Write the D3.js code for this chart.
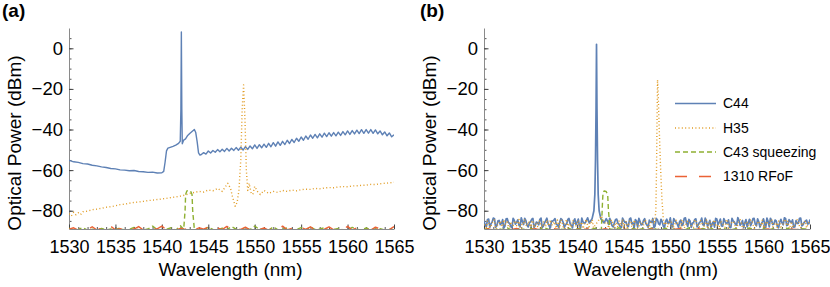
<!DOCTYPE html>
<html>
<head>
<meta charset="utf-8">
<script src="https://cdn.jsdelivr.net/npm/d3@7"></script>
<style>
  body { margin: 0; background: #fff; }
  text { font-family: "Liberation Sans", Arial, sans-serif; }
</style>
</head>
<body>
<svg id="chart"></svg>
<script>
const width = 830,
  height = 287;

// axis ticks and labels
const wavelengthTicks = [1530, 1535, 1540, 1545, 1550, 1555, 1560, 1565];
const powerTicks = [-80, -60, -40, -20, 0];
const seriesNames = ["C44", "H35", "C43 squeezing", "1310 RFoF"];
const seriesColors = ["#5E81B5", "#E19C24", "#8FB032", "#EB6235"];
const seriesDash = [null, "1,2.4", "5,3", "12,12"];

// ---- panel (a) ----
// C44, start of the trace [nm, dBm]
const c44aHead = [
  [1530, -55.2], [1530.5, -55.9], [1531, -56.2], [1531.5, -56.8], [1532, -57.0],
  [1532.5, -57.6], [1533, -57.9], [1533.5, -58.4], [1534, -58.7], [1534.5, -59.2],
  [1535, -59.4], [1535.5, -59.9], [1536, -60.0], [1536.5, -60.3], [1537, -60.2],
  [1537.5, -60.7], [1538, -60.8], [1538.5, -61.1], [1539, -61.0], [1539.5, -61.4],
  [1540, -61.3], [1540.2, -60.6], [1540.35, -56], [1540.5, -50.5], [1540.65, -49.2],
  [1540.9, -48.8], [1541.2, -48.3], [1541.5, -47.7], [1541.8, -46.8], [1541.98, -45.8],
  [1542.05, -30], [1542.1, 8], [1542.15, -30], [1542.2, -47], [1542.35, -45.2],
  [1542.55, -44.6], [1542.75, -43.1], [1543.0, -42.0], [1543.25, -41.0], [1543.5, -40.0],
  [1543.65, -41.5], [1543.8, -46], [1543.95, -51.5], [1544.1, -52.6]
];
// C44, rest of the trace, sweep points every 0.25 nm from 1544.25 nm
const c44aTailStart = 1544.25;
const c44aTail = [
  -52.3, -51.4, -52.1, -50.6, -51.6, -50.3, -51.2, -49.9, -51.0, -49.7,
  -50.8, -49.3, -50.6, -49.2, -50.3, -48.9, -50.2, -48.7, -50.1, -48.4,
  -49.8, -48.1, -49.5, -47.6, -49.3, -47.5, -49.0, -47.2, -48.8, -46.8,
  -48.5, -46.5, -48.2, -46.1, -47.8, -45.8, -47.4, -45.3, -46.9, -44.9,
  -46.4, -44.3, -45.8, -43.7, -45.3, -43.2, -44.8, -42.7, -44.3, -42.4,
  -44.1, -42.1, -43.8, -41.8, -43.5, -41.6, -43.3, -41.5, -43.1, -41.3,
  -42.9, -41.0, -42.6, -40.7, -42.4, -40.5, -42.2, -40.3, -42.0, -40.1,
  -41.9, -40.0, -41.8, -40.0, -41.9, -40.2, -42.1, -40.7, -42.6, -41.2,
  -43.1, -41.7, -43.6, -42.6
];
// H35 [nm, dBm]
const h35a = [
  [1530, -81.5], [1530.25, -82.6], [1530.5, -80.8], [1530.75, -82.0], [1531, -81.0],
  [1531.25, -81.9], [1531.5, -80.5], [1532, -80.2], [1532.5, -79.5], [1533, -79.2],
  [1533.5, -78.8], [1534, -78.3], [1534.5, -78.0], [1535, -77.6], [1535.5, -77.0],
  [1536, -76.8], [1536.5, -76.3], [1537, -75.9], [1537.5, -75.7], [1538, -75.4],
  [1538.5, -75.0], [1539, -74.8], [1539.5, -74.5], [1540, -74.2], [1540.5, -73.9],
  [1541, -73.5], [1541.5, -73.2], [1542, -72.8], [1542.5, -72.3], [1543, -71.5],
  [1543.5, -71.0], [1544, -70.5], [1544.5, -70.8], [1545, -69.8], [1545.5, -70.2],
  [1546, -69.0], [1546.5, -70.5], [1546.8, -68.5], [1547.1, -66.5], [1547.4, -69],
  [1547.6, -73], [1547.9, -77.8], [1548.1, -76], [1548.3, -70], [1548.5, -55],
  [1548.65, -30], [1548.8, -18], [1548.95, -35], [1549.1, -60], [1549.25, -70],
  [1549.4, -66.5], [1549.6, -71], [1549.8, -72], [1550.0, -68], [1550.3, -70.5],
  [1550.6, -72], [1551, -70], [1551.5, -71.5], [1552, -70.5], [1552.5, -71],
  [1553, -70], [1553.5, -70.5], [1554, -69.8], [1554.5, -70.2], [1555, -69.6],
  [1555.5, -69.4], [1556, -69.5], [1556.5, -69.0], [1557, -69.2], [1557.5, -68.8],
  [1558, -68.6], [1558.5, -68.7], [1559, -68.3], [1559.5, -68.1], [1560, -68.2],
  [1560.5, -67.8], [1561, -67.7], [1561.5, -67.5], [1562, -67.4], [1562.5, -67.0],
  [1563, -67.1], [1563.5, -66.7], [1564, -66.5], [1564.5, -66.3], [1565, -66.0]
];
// floor traces, sweep points every 0.5 nm from 1530 nm
const floorStart = 1530;
const c43aFloor = [
  -88.6, -89.5, -89.2, -88.3, -89.6, -89.1, -89.4, -88.7, -89.5, -89.0,
  -89.3, -88.5, -89.6, -89.2, -88.2, -89.4, -89.5, -89.0, -87.6, -89.3,
  -89.5, -89.1, -88.4, -89.6, -87.4, -89.2, -89.5, -88.8, -89.3, -89.6,
  -88.1, -89.2, -89.5, -88.6, -89.4, -87.8, -89.1, -89.6, -88.3, -89.3,
  -87.5, -89.2, -88.9, -89.6, -88.0, -89.4, -89.1, -88.5, -89.6, -89.2,
  -88.3, -89.5, -87.9, -89.3, -89.0, -88.4, -89.6, -89.2, -88.7, -89.4,
  -89.5, -88.2, -89.1, -89.6, -88.5, -89.3, -89.0, -88.8, -89.5, -89.2,
  -88.6
];
const c43aPeak = [
  [1542.35, -89.2], [1542.5, -80], [1542.56, -72], [1542.7, -70.2], [1542.9, -70],
  [1543.1, -70.4], [1543.25, -72], [1543.32, -80], [1543.5, -89.2]
];
const rfofaFloor = [
  -89.1, -88.4, -89.6, -88.0, -89.3, -87.9, -89.5, -88.6, -89.2, -87.7,
  -89.4, -88.8, -89.6, -88.2, -89.1, -87.8, -89.5, -88.5, -89.3, -88.9,
  -87.6, -89.4, -88.3, -89.6, -88.7, -89.2, -87.9, -89.5, -88.4, -89.1,
  -88.0, -89.6, -88.6, -89.3, -87.7, -89.4, -88.9, -89.2, -88.1, -89.5,
  -87.8, -89.3, -88.5, -89.6, -88.2, -89.0, -87.6, -89.4, -88.7, -89.5,
  -88.3, -89.2, -87.9, -89.6, -88.6, -89.1, -88.0, -89.4, -88.8, -89.3,
  -87.7, -89.5, -88.4, -89.2, -88.9, -89.6, -88.1, -89.0, -88.5, -89.3,
  -87.8
];

// ---- panel (b) ----
// noise floors, sweep points every 0.25 nm from 1530 nm ...
const fineStart = 1530;
const c44bFloor = [
  -85.2, -87.9, -84.1, -86.5, -83.6, -88.2, -85.0, -86.9, -84.4, -87.6,
  -83.9, -86.2, -88.4, -84.8, -85.7, -87.1, -83.5, -86.8, -84.9, -88.0,
  -85.4, -83.8, -87.3, -85.9, -84.2, -88.3, -86.0, -83.7, -87.5, -85.1,
  -84.6, -86.6, -88.1, -83.9, -85.8, -87.0, -84.3, -86.4, -88.5, -84.0,
  -85.6, -87.7, -83.6, -86.1, -84.7, -88.2, -85.3, -86.9, -83.8, -87.2,
  -84.5, -86.3, -88.0, -85.0, -83.7, -87.4, -85.9, -84.1, -86.7, -88.3,
  -84.8, -85.5, -87.8, -83.6, -86.0, -84.4, -88.1, -85.2, -86.8, -83.9,
  -87.1, -84.6, -85.7, -88.4, -83.8, -86.5, -84.2, -87.6, -85.1, -86.2,
  -83.5, -88.0, -84.9, -86.6, -85.4, -87.3, -83.7, -86.1, -84.3, -88.2,
  -85.8, -84.0, -87.0, -85.3, -86.9, -83.6, -87.7, -84.7, -86.4, -88.1,
  -84.1, -85.6, -87.5, -83.9, -86.3, -84.5, -88.3, -85.0, -86.7, -83.4,
  -87.2, -84.8, -85.9, -88.0, -84.2, -86.0, -83.8, -87.4, -85.5, -86.6,
  -84.0, -88.2, -85.2, -83.7, -86.8, -84.6, -87.9, -85.7, -86.1, -83.5,
  -87.3, -84.4, -85.8, -88.1, -84.9, -86.2, -83.6, -87.0, -85.1, -86.5,
  -84.3
];
// ... and the points in between (from 1530.125 nm)
const c44bFloorMid = [
  -86.9, -84.3, -88.1, -85.5, -83.9, -87.4, -84.8, -86.3, -88.6, -84.0,
  -85.9, -87.8, -83.7, -86.6, -84.5, -88.0, -85.3, -83.8, -87.2, -86.0,
  -84.2, -88.3, -85.6, -86.9, -83.6, -87.5, -84.9, -86.2, -88.4, -85.1,
  -83.9, -87.0, -85.7, -84.4, -88.2, -86.5, -83.8, -87.3, -85.0, -86.8,
  -84.1, -88.5, -85.4, -86.0, -83.5, -87.6, -84.7, -86.4, -88.1, -85.2,
  -84.6, -87.1, -83.9, -86.7, -85.5, -88.0, -84.3, -86.1, -87.9, -83.6,
  -85.8, -87.4, -84.0, -86.5, -88.3, -85.0, -83.7, -87.0, -84.8, -86.3,
  -88.2, -85.6, -83.8, -87.5, -84.5, -86.9, -85.3, -88.4, -84.2, -86.0,
  -87.3, -83.9, -85.7, -88.1, -84.6, -86.6, -83.5, -87.8, -85.1, -86.2,
  -84.3, -88.0, -85.9, -83.6, -87.2, -84.9, -86.4, -88.5, -85.4, -83.8,
  -86.8, -84.1, -87.6, -85.2, -86.0, -88.2, -83.7, -85.5, -87.1, -84.7,
  -86.3, -88.3, -84.4, -85.8, -87.4, -83.9, -86.7, -84.0, -88.1, -85.6,
  -86.1, -83.6, -87.9, -84.8, -86.5, -85.0, -88.4, -84.2, -86.9, -83.8,
  -87.0, -85.3, -84.5, -88.0, -86.2, -83.7, -87.5, -85.7, -84.6, -86.4
];
const c44bPeak = [
  [1541.3, -86], [1541.6, -84], [1541.8, -80], [1541.9, -72], [1541.97, -55],
  [1542.03, -30], [1542.08, 2], [1542.13, -30], [1542.19, -55], [1542.26, -72],
  [1542.36, -80], [1542.55, -84], [1542.9, -86]
];
const h35bFloor = [
  -86.8, -88.4, -85.2, -87.6, -84.5, -88.9, -86.1, -85.0, -87.9, -86.4,
  -84.8, -88.2, -86.9, -85.6, -87.3, -84.3, -88.6, -86.0, -87.1, -85.3,
  -88.8, -84.9, -86.6, -87.8, -85.1, -88.3, -86.3, -84.6, -87.5, -86.8,
  -85.4, -88.7, -86.2, -84.4, -87.9, -85.8, -88.5, -86.7, -84.7, -87.2,
  -86.0, -88.1, -85.5, -87.4, -84.2, -88.9, -86.5, -85.2, -87.7, -86.1,
  -84.9, -88.4, -86.8, -85.7, -87.0, -84.5, -88.6, -86.4, -85.0, -87.6,
  -88.2, -85.3, -86.9, -84.8, -87.8, -86.2, -88.7, -85.6, -87.1, -84.3,
  -86.6, -88.0, -85.1, -87.5, -86.3, -84.7, -88.8, -86.0, -85.4, -87.9,
  -84.6, -88.3, -86.7, -85.9, -87.2, -84.4, -88.5, -86.2, -85.5, -87.6,
  -88.1, -85.0, -86.8, -84.9, -87.4, -86.4, -88.9, -85.3, -87.0, -84.5,
  -86.5, -88.2, -85.7, -87.7, -84.8, -88.6, -86.1, -85.2, -87.9, -86.9,
  -84.4, -88.4, -86.3, -85.8, -87.3, -84.7, -88.7, -86.6, -85.1, -87.5,
  -88.0, -85.4, -86.9, -84.6, -87.8, -86.0, -88.3, -85.6, -87.1, -84.2,
  -86.7, -88.8, -85.3, -87.6, -86.2, -84.9, -88.5, -86.4, -85.0, -87.2,
  -85.5
];
const h35bFloorMid = [
  -87.7, -85.1, -88.3, -86.2, -84.7, -88.6, -85.9, -87.0, -84.4, -86.8,
  -88.1, -85.4, -87.3, -84.9, -86.5, -88.7, -85.7, -84.3, -87.6, -86.0,
  -85.2, -88.4, -86.6, -84.8, -87.9, -85.5, -88.0, -86.3, -84.5, -87.2,
  -86.9, -84.6, -88.5, -85.8, -87.1, -84.2, -86.4, -88.2, -85.0, -87.5,
  -84.7, -86.7, -88.8, -85.3, -87.4, -86.1, -84.4, -88.3, -85.6, -86.9,
  -87.8, -85.0, -86.2, -88.6, -84.9, -87.0, -85.7, -88.1, -86.5, -84.3,
  -86.3, -88.4, -85.2, -87.7, -84.6, -86.8, -88.0, -85.5, -87.3, -84.8,
  -88.2, -86.0, -84.5, -87.5, -85.9, -88.7, -86.4, -84.2, -87.1, -85.3,
  -85.8, -87.9, -84.7, -86.6, -88.5, -85.1, -87.2, -84.9, -86.1, -88.3,
  -84.4, -86.9, -88.0, -85.6, -87.6, -84.6, -86.3, -88.6, -85.4, -87.0,
  -87.4, -85.0, -86.7, -88.2, -84.3, -87.8, -85.7, -86.2, -88.8, -84.8,
  -86.0, -88.1, -85.3, -87.3, -84.5, -86.5, -88.4, -85.9, -87.1, -84.7,
  -88.6, -85.5, -86.8, -84.2, -87.7, -86.1, -85.1, -88.0, -86.4, -84.9,
  -85.2, -87.5, -88.3, -86.6, -84.4, -87.9, -85.8, -86.3, -88.5, -85.6
];
const h35bFeatures = [
  [1541.75, -88.5], [1541.95, -87], [1542.2, -85.5], [1542.4, -84], [1542.6, -82.5],
  [1542.8, -84.5], [1542.95, -86],
  [1548.3, -86.5], [1548.45, -80], [1548.52, -60], [1548.58, -35], [1548.63, -15.5],
  [1548.7, -22], [1548.8, -38], [1548.95, -58], [1549.1, -74], [1549.25, -84], [1549.35, -87]
];
const c43bFloor = [
  -89.2, -88.7, -89.5, -88.9, -89.3, -88.5, -89.6, -89.0, -88.8, -89.4,
  -88.6, -89.5, -89.1, -88.4, -89.3, -89.6, -88.9, -89.2, -88.5, -89.4,
  -89.0, -88.7, -89.6, -89.1, -88.6, -89.3, -89.5, -88.8, -89.2, -88.4,
  -89.6, -89.0, -88.7, -89.4, -88.9, -89.5, -88.5, -89.1, -89.3, -88.6,
  -89.5, -88.8, -89.2, -89.6, -88.4, -89.0, -89.4, -88.7, -89.3, -88.9,
  -89.5, -88.6, -89.1, -89.4, -88.8, -89.6, -89.0, -88.5, -89.3, -89.2,
  -88.7, -89.4, -88.9, -89.6, -89.1, -88.6, -89.3, -89.5, -88.8, -89.0,
  -89.4
];
const c43bPeak = [
  [1542.6, -89.3], [1542.72, -76], [1542.78, -71], [1542.9, -70.3], [1543.1, -70.5],
  [1543.28, -72], [1543.35, -79], [1543.42, -83], [1543.5, -89]
];
const rfofbFloor = [
  -89.4, -88.9, -89.6, -89.1, -88.8, -89.5, -89.2, -88.7, -89.6, -89.0,
  -89.3, -88.8, -89.5, -89.1, -89.6, -88.9, -89.2, -89.4, -88.7, -89.5,
  -89.0, -89.6, -88.9, -89.3, -89.1, -89.5, -88.8, -89.4, -89.6, -89.0,
  -88.9, -89.5, -89.2, -89.6, -88.7, -89.3, -89.0, -89.5, -88.9, -89.4,
  -89.6, -89.1, -88.8, -89.4, -89.2, -89.6, -88.9, -89.3, -89.5, -89.0,
  -88.8, -89.4, -89.6, -89.1, -89.3, -88.9, -89.5, -89.2, -89.6, -88.8,
  -89.3, -89.0, -89.5, -89.4, -88.9, -89.6, -89.1, -89.2, -89.5, -89.0,
  -89.3
];

// helpers to turn a sweep into [nm, dBm] pairs
function sweep(start, step, values) {
  return values.map((v, i) => [start + i * step, v]);
}
function merge(floor, features, lo, hi) {
  return floor
    .filter((d) => d[0] < lo || d[0] > hi)
    .concat(features)
    .sort((a, b) => a[0] - b[0]);
}

const c44bSweep = sweep(fineStart, 0.25, c44bFloor).concat(
  sweep(fineStart + 0.125, 0.25, c44bFloorMid)
);
const h35bSweep = sweep(fineStart, 0.25, h35bFloor)
  .concat(sweep(fineStart + 0.125, 0.25, h35bFloorMid))
  .filter((d) => d[0] < 1548.25 || d[0] > 1549.4);

const panelA = [
  c44aHead.concat(sweep(c44aTailStart, 0.25, c44aTail)),
  h35a,
  merge(sweep(floorStart, 0.5, c43aFloor), c43aPeak, 1542.3, 1543.55),
  sweep(floorStart, 0.5, rfofaFloor)
];
const panelB = [
  merge(c44bSweep, c44bPeak, 1541.2, 1543.0),
  merge(h35bSweep, h35bFeatures, 1541.7, 1543.0),
  merge(sweep(floorStart, 0.5, c43bFloor), c43bPeak, 1542.55, 1543.55),
  sweep(floorStart, 0.5, rfofbFloor)
];

const svg = d3
  .select("#chart")
  .attr("width", width)
  .attr("height", height)
  .attr("viewBox", [0, 0, width, height]);

const plotTop = 28,
  plotBottom = 229;

const y = d3.scaleLinear().domain([-89, 10]).range([plotBottom, plotTop]);

const panels = [
  { tag: "(a)", tagX: 2, x0: 69, x1: 394, ylabX: 20.5, series: panelA },
  { tag: "(b)", tagX: 420, x0: 484, x1: 810, ylabX: 436, series: panelB }
];

panels.forEach((p, pi) => {
  const x = d3.scaleLinear().domain([1530, 1565]).range([p.x0, p.x1]);
  const g = svg.append("g");

  // clip so the floors stop at the axis
  const clipId = "clip" + pi;
  svg
    .append("clipPath")
    .attr("id", clipId)
    .append("rect")
    .attr("x", p.x0)
    .attr("y", plotTop)
    .attr("width", p.x1 - p.x0)
    .attr("height", plotBottom - plotTop);

  // minor ticks first
  g.append("g")
    .attr("transform", `translate(${p.x0},0)`)
    .call(
      d3.axisLeft(y)
        .tickValues(d3.range(-85, 10, 5))
        .tickSize(-2.5)
        .tickSizeOuter(0)
        .tickFormat("")
    )
    .call((a) => a.select(".domain").remove())
    .call((a) => a.selectAll("line").attr("stroke", "#555"));

  g.append("g")
    .attr("transform", `translate(0,${plotBottom})`)
    .call(
      d3.axisBottom(x)
        .tickValues(d3.range(1530, 1566, 1))
        .tickSize(-2)
        .tickSizeOuter(0)
        .tickFormat("")
    )
    .call((a) => a.select(".domain").remove())
    .call((a) => a.selectAll("line").attr("stroke", "#555"));

  // y axis
  g.append("g")
    .attr("transform", `translate(${p.x0},0)`)
    .call(
      d3.axisLeft(y)
        .tickValues(powerTicks)
        .tickSize(-4.5)
        .tickSizeOuter(0)
        .tickPadding(6)
        .tickFormat((d) => (d < 0 ? "\u2212" + Math.abs(d) : d))
    )
    .call((a) => a.select(".domain").attr("stroke", "#8a8a8a"))
    .call((a) => a.selectAll("line").attr("stroke", "#444"))
    .call((a) =>
      a.selectAll("text").attr("font-size", 18.5).attr("fill", "#000")
        .style("font-family", '"Liberation Sans", Arial, sans-serif')
    );

  // x axis
  g.append("g")
    .attr("transform", `translate(0,${plotBottom})`)
    .call(
      d3.axisBottom(x)
        .tickValues(wavelengthTicks)
        .tickSize(-4.5)
        .tickSizeOuter(0)
        .tickPadding(11.5)
        .tickFormat(d3.format("d"))
    )
    .call((a) => a.select(".domain").attr("stroke", "#8a8a8a"))
    .call((a) => a.selectAll("line").attr("stroke", "#444"))
    .call((a) =>
      a.selectAll("text").attr("font-size", 18).attr("fill", "#000")
        .style("font-family", '"Liberation Sans", Arial, sans-serif')
    );

  const line = d3
    .line()
    .x((d) => x(d[0]))
    .y((d) => y(d[1]));

  const lines = svg.append("g").attr("clip-path", `url(#${clipId})`);
  p.series.forEach((s, i) => {
    lines
      .append("path")
      .datum(s)
      .attr("fill", "none")
      .attr("stroke", seriesColors[i])
      .attr("stroke-width", pi === 1 && i === 0 ? 1.7 : 1.4)
      .attr("stroke-linejoin", "round")
      .attr("stroke-dasharray", seriesDash[i])
      .attr("d", line);
  });

  // axis titles
  svg
    .append("text")
    .attr("transform", `translate(${p.ylabX},143) rotate(-90)`)
    .attr("text-anchor", "middle")
    .attr("font-size", 19)
    .text("Optical Power (dBm)");

  svg
    .append("text")
    .attr("x", (p.x0 + p.x1) / 2 - 1)
    .attr("y", 276)
    .attr("text-anchor", "middle")
    .attr("font-size", 19)
    .text("Wavelength (nm)");

  svg
    .append("text")
    .attr("x", p.tagX)
    .attr("y", 17)
    .attr("font-size", 19)
    .attr("font-weight", "bold")
    .text(p.tag);
});

// legend in panel (b)
const legend = svg.append("g");
const legendRows = [103.5, 128, 152, 176.5];
seriesNames.forEach((name, i) => {
  legend
    .append("line")
    .attr("x1", 675)
    .attr("x2", 716)
    .attr("y1", legendRows[i])
    .attr("y2", legendRows[i])
    .attr("stroke", seriesColors[i])
    .attr("stroke-width", 1.6)
    .attr("stroke-dasharray", seriesDash[i]);
  legend
    .append("text")
    .attr("x", 723)
    .attr("y", legendRows[i])
    .attr("dy", "0.35em")
    .attr("font-size", 14)
    .text(name);
});
</script>
</body>
</html>
